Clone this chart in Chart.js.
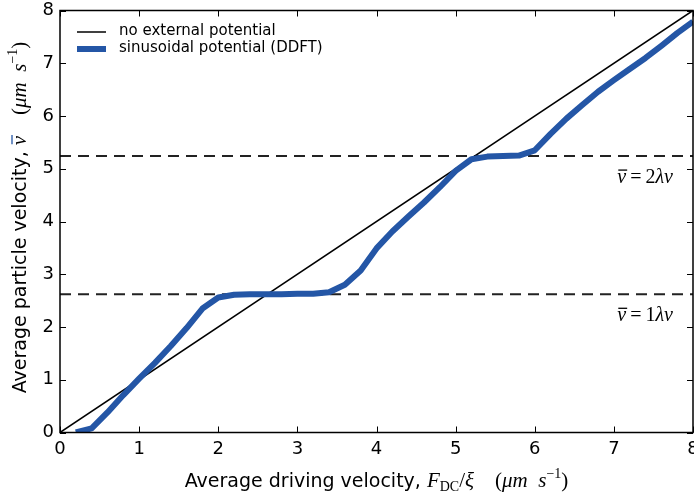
<!DOCTYPE html>
<html>
<head>
<meta charset="utf-8">
<script src="https://cdn.jsdelivr.net/npm/chart.js@4"></script>
<style>
html,body{margin:0;padding:0;background:#fff;}
#wrap{width:694px;height:500px;}
</style>
</head>
<body>
<div id="wrap"><canvas id="c" width="694" height="500"></canvas></div>
<script>
// ---- data ----
const drivingVelocity = [0.2,0.4,0.6,0.8,1.0,1.2,1.4,1.6,1.8,2.0,2.2,2.4,2.6,2.8,3.0,3.2,3.4,3.6,3.8,4.0,4.2,4.4,4.6,4.8,5.0,5.2,5.4,5.6,5.8,6.0,6.2,6.4,6.6,6.8,7.0,7.2,7.4,7.6,7.8,8.0];
const ddftVelocity = [0.0,0.08,0.38,0.71,1.02,1.32,1.64,1.98,2.35,2.56,2.61,2.62,2.62,2.62,2.63,2.63,2.66,2.80,3.07,3.49,3.81,4.09,4.36,4.65,4.96,5.18,5.23,5.24,5.25,5.35,5.66,5.95,6.21,6.46,6.68,6.89,7.10,7.33,7.57,7.79];
const freeX = [0, 8];
const freeY = [0, 8];
const lockLevels = [2.62, 5.24];
const lockLabels = ["1", "2"];
const axisTicks = [0,1,2,3,4,5,6,7,8];
const legendLabels = ["no external potential", "sinusoidal potential (DDFT)"];

const BLUE = '#2456a6';
const SANS = '"DejaVu Sans", sans-serif';
const SERIF = '"Liberation Serif", "DejaVu Serif", serif';

function drawRich(ctx, segs, x, y, align) {
  let total = 0;
  const widths = segs.map(s => { ctx.font = s.f; const w = ctx.measureText(s.t).width; total += w; return w; });
  let cx = align === 'center' ? x - total / 2 : (align === 'right' ? x - total : x);
  ctx.textAlign = 'left';
  ctx.textBaseline = 'alphabetic';
  segs.forEach((s, i) => {
    ctx.font = s.f;
    ctx.fillText(s.t, cx, y + (s.dy || 0));
    if (s.over) {
      ctx.save();
      ctx.lineWidth = 1.3;
      ctx.beginPath();
      ctx.moveTo(cx + 1, y - s.over);
      ctx.lineTo(cx + widths[i] + 1, y - s.over);
      ctx.stroke();
      ctx.restore();
    }
    cx += widths[i];
  });
}

const decor = {
  id: 'decor',
  afterDatasetsDraw(chart) {
    const ctx = chart.ctx, a = chart.chartArea;
    const xs = chart.scales.x, ys = chart.scales.y;
    ctx.save();
    ctx.strokeStyle = '#000';
    ctx.fillStyle = '#000';
    // frame
    ctx.lineWidth = 1.5;
    ctx.strokeRect(a.left, a.top, a.right - a.left, a.bottom - a.top);
    // inward ticks
    ctx.lineWidth = 1;
    const L = 6;
    axisTicks.forEach(v => {
      const px = Math.round(xs.getPixelForValue(v)) + 0.5;
      ctx.beginPath();
      ctx.moveTo(px, a.bottom); ctx.lineTo(px, a.bottom - L);
      ctx.moveTo(px, a.top); ctx.lineTo(px, a.top + L);
      ctx.stroke();
      const py = Math.round(ys.getPixelForValue(v)) + 0.5;
      ctx.beginPath();
      ctx.moveTo(a.left, py); ctx.lineTo(a.left + L, py);
      ctx.moveTo(a.right, py); ctx.lineTo(a.right - L, py);
      ctx.stroke();
    });
    // lock-in annotations
    lockLevels.forEach((lv, i) => {
      const py = ys.getPixelForValue(lv);
      drawRich(ctx, [
        {t: 'v', f: 'italic 20px ' + SERIF, over: 13},
        {t: '\u2009=\u2009', f: '20px ' + SERIF},
        {t: lockLabels[i], f: '20px ' + SERIF},
        {t: '\u03bb\u03bd', f: 'italic 20px ' + SERIF}
      ], a.right - 20, py + 27, 'right');
    });
    // legend
    const lx0 = 77, lx1 = 106, tx = 119;
    ctx.lineWidth = 1.5; ctx.strokeStyle = '#000';
    ctx.beginPath(); ctx.moveTo(lx0, 32); ctx.lineTo(lx1, 32); ctx.stroke();
    ctx.lineWidth = 6; ctx.strokeStyle = BLUE;
    ctx.beginPath(); ctx.moveTo(lx0, 49); ctx.lineTo(lx1, 49); ctx.stroke();
    ctx.font = '15px ' + SANS;
    ctx.fillStyle = '#000';
    ctx.textAlign = 'left';
    ctx.textBaseline = 'middle';
    ctx.fillText(legendLabels[0], tx, 31);
    ctx.fillText(legendLabels[1], tx, 48);
    // x title
    const cxm = (a.left + a.right) / 2;
    drawRich(ctx, [
      {t: 'Average driving velocity, ', f: '19px ' + SANS},
      {t: 'F', f: 'italic 21px ' + SERIF},
      {t: 'DC', f: '14px ' + SERIF, dy: 4},
      {t: '/', f: '21px ' + SERIF},
      {t: '\u03be', f: 'italic 21px ' + SERIF},
      {t: '    (', f: '21px ' + SERIF},
      {t: '\u03bcm', f: 'italic 21px ' + SERIF},
      {t: '  s', f: 'italic 21px ' + SERIF},
      {t: '\u22121', f: '14px ' + SERIF, dy: -9},
      {t: ')', f: '21px ' + SERIF}
    ], cxm, 487, 'center');
    // y title
    ctx.translate(26, (a.top + a.bottom) / 2 - 4);
    ctx.rotate(-Math.PI / 2);
    drawRich(ctx, [
      {t: 'Average particle velocity, ', f: '19px ' + SANS},
      {t: 'v', f: 'italic 21px ' + SERIF, over: 14},
      {t: '    (', f: '21px ' + SERIF},
      {t: '\u03bcm', f: 'italic 21px ' + SERIF},
      {t: '  s', f: 'italic 21px ' + SERIF},
      {t: '\u22121', f: '14px ' + SERIF, dy: -9},
      {t: ')', f: '21px ' + SERIF}
    ], 0, 0, 'center');
    ctx.restore();
  }
};

const pts = (xs, ys) => xs.map((x, i) => ({x: x, y: ys[i]}));

new Chart(document.getElementById('c'), {
  type: 'line',
  data: {
    datasets: [
      {label: legendLabels[0], data: pts(freeX, freeY), borderColor: '#000', borderWidth: 1.5, pointRadius: 0, order: 2},
      {label: 'level1', data: pts(freeX, [lockLevels[0], lockLevels[0]]), borderColor: '#222', borderWidth: 2, borderDash: [11, 7], pointRadius: 0, order: 3},
      {label: 'level2', data: pts(freeX, [lockLevels[1], lockLevels[1]]), borderColor: '#222', borderWidth: 2, borderDash: [11, 7], pointRadius: 0, order: 3},
      {label: legendLabels[1], data: pts(drivingVelocity, ddftVelocity), borderColor: BLUE, borderWidth: 6, pointRadius: 0, borderJoinStyle: 'round', borderCapStyle: 'butt', order: 1}
    ]
  },
  options: {
    responsive: false,
    animation: false,
    events: [],
    layout: {padding: {top: 10.5, right: 1, left: 0, bottom: 0}},
    plugins: {legend: {display: false}, tooltip: {enabled: false}},
    scales: {
      x: {
        type: 'linear', min: 0, max: 8,
        grid: {display: false, drawTicks: false},
        border: {display: false},
        ticks: {stepSize: 1, color: '#000', font: {family: SANS, size: 18}, padding: 6, maxRotation: 0},
        afterFit(s) { s.height = 67.5; s.paddingLeft = 0; s.paddingRight = 0; }
      },
      y: {
        type: 'linear', min: 0, max: 8,
        grid: {display: false, drawTicks: false},
        border: {display: false},
        ticks: {stepSize: 1, color: '#000', font: {family: SANS, size: 18}, padding: 6},
        afterFit(s) { s.width = 60; s.paddingTop = 0; s.paddingBottom = 0; }
      }
    }
  },
  plugins: [decor]
});
</script>
</body>
</html>
